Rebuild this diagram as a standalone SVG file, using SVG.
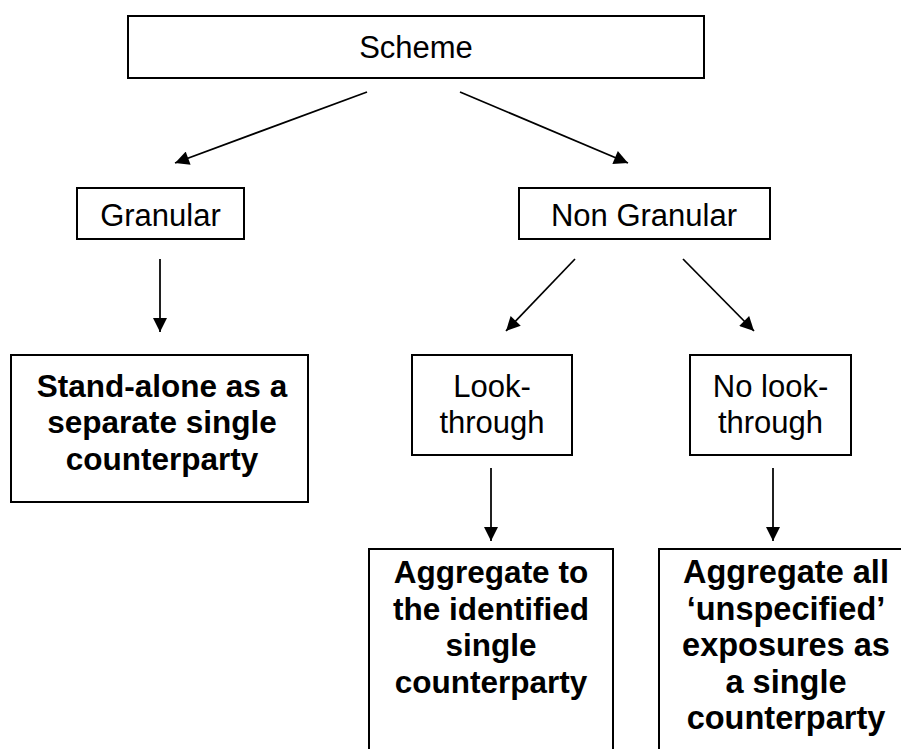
<svg xmlns="http://www.w3.org/2000/svg" width="901" height="749" viewBox="0 0 901 749">
  <defs>
    <marker id="arrow" viewBox="0 0 10 10" refX="10" refY="5" markerWidth="15" markerHeight="14" markerUnits="userSpaceOnUse" orient="auto">
      <path d="M0,0 L10,5 L0,10 z" fill="#000"/>
    </marker>
    <style>
      .box { fill: #fff; stroke: #000; stroke-width: 2; }
      .reg { font-family: "Liberation Sans", Arial, sans-serif; font-size: 31px; fill: #000; text-anchor: middle; }
      .bold { font-family: "Liberation Sans", Arial, sans-serif; font-size: 31.5px; font-weight: bold; fill: #000; text-anchor: middle; }
      .bold2 { font-family: "Liberation Sans", Arial, sans-serif; font-size: 32.5px; font-weight: bold; fill: #000; text-anchor: middle; }
      .conn { stroke: #000; stroke-width: 1.75; fill: none; marker-end: url(#arrow); }
    </style>
  </defs>
  <rect width="901" height="749" fill="#fff"/>

  <g id="connectors">
    <line class="conn" x1="367" y1="92" x2="175" y2="163"/>
    <line class="conn" x1="460" y1="92" x2="628" y2="163"/>
    <line class="conn" x1="160" y1="259" x2="160" y2="332"/>
    <line class="conn" x1="575" y1="259" x2="506" y2="331"/>
    <line class="conn" x1="683" y1="259" x2="754" y2="331"/>
    <line class="conn" x1="491" y1="468" x2="491" y2="541"/>
    <line class="conn" x1="773" y1="468" x2="773" y2="541"/>
  </g>

  <g id="scheme">
    <rect class="box" x="128" y="16" width="576" height="62"/>
    <text class="reg" x="416" y="58">Scheme</text>
  </g>

  <g id="granular">
    <rect class="box" x="77" y="188" width="167" height="51"/>
    <text class="reg" x="160.5" y="226">Granular</text>
  </g>

  <g id="non-granular">
    <rect class="box" x="519" y="188" width="251" height="51"/>
    <text class="reg" x="644" y="226">Non Granular</text>
  </g>

  <g id="stand-alone">
    <rect class="box" x="11" y="355" width="297" height="147"/>
    <text class="bold" x="162" y="397">Stand-alone as a</text>
    <text class="bold" x="162" y="433">separate single</text>
    <text class="bold" x="162" y="470">counterparty</text>
  </g>

  <g id="look-through">
    <rect class="box" x="412" y="355" width="160" height="100"/>
    <text class="reg" x="492" y="397">Look-</text>
    <text class="reg" x="492" y="433">through</text>
  </g>

  <g id="no-look-through">
    <rect class="box" x="690" y="355" width="161" height="100"/>
    <text class="reg" x="770.5" y="397">No look-</text>
    <text class="reg" x="770.5" y="433">through</text>
  </g>

  <g id="aggregate-identified">
    <rect class="box" x="369" y="549" width="244" height="220"/>
    <text class="bold" x="491" y="583">Aggregate to</text>
    <text class="bold" x="491" y="620">the identified</text>
    <text class="bold" x="491" y="656">single</text>
    <text class="bold" x="491" y="693">counterparty</text>
  </g>

  <g id="aggregate-unspecified">
    <rect class="box" x="659" y="549" width="260" height="220"/>
    <text class="bold2" x="786" y="583">Aggregate all</text>
    <text class="bold2" x="786" y="620">‘unspecified’</text>
    <text class="bold2" x="786" y="656">exposures as</text>
    <text class="bold2" x="786" y="693">a single</text>
    <text class="bold2" x="786" y="729">counterparty</text>
  </g>
</svg>
